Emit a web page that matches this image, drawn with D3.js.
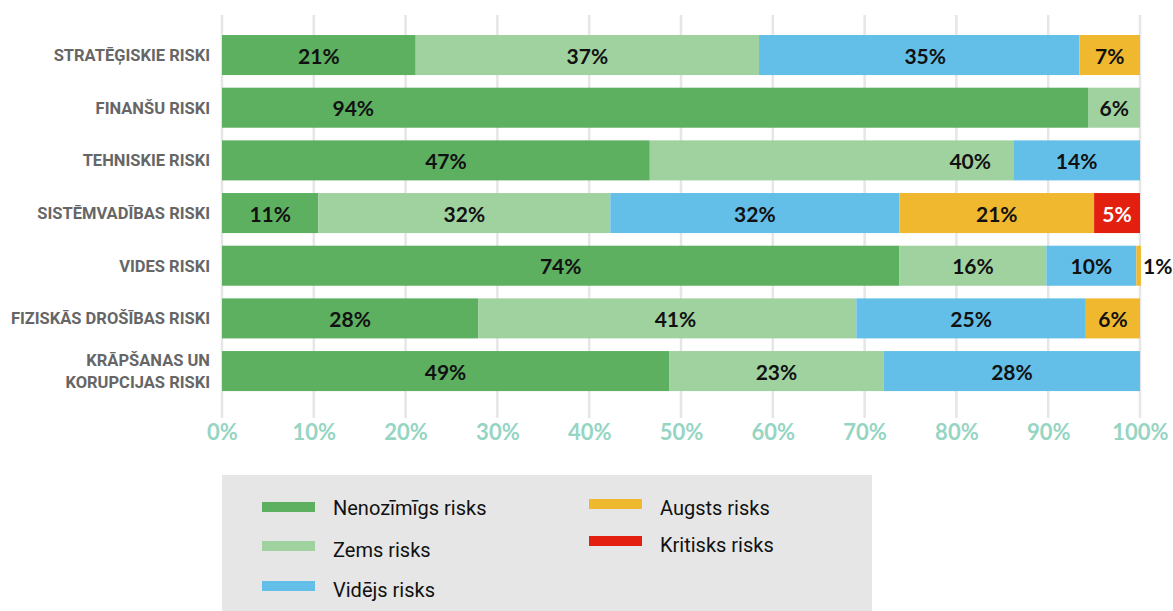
<!DOCTYPE html>
<html>
<head>
<meta charset="utf-8">
<script src="https://cdn.jsdelivr.net/npm/d3@7"></script>
<style>
  body { margin: 0; background: #fff; }
  svg { display: block; }
</style>
</head>
<body>
<svg width="1173" height="611"></svg>
<script>
// dati
var categories = ["STRATĒĢISKIE RISKI", "FINANŠU RISKI", "TEHNISKIE RISKI", "SISTĒMVADĪBAS RISKI",
                  "VIDES RISKI", "FIZISKĀS DROŠĪBAS RISKI", "KRĀPŠANAS UN\nKORUPCIJAS RISKI"];
var seriesNames = ["Nenozīmīgs risks", "Zems risks", "Vidējs risks", "Augsts risks", "Kritisks risks"];
var nenozimigs = [21.1, 94.4, 46.6, 10.5, 73.8, 27.9, 48.7];
var zems       = [37.4,  5.6, 39.6, 31.8, 16.0, 41.2, 23.4];
var videjs     = [34.9,  0,   13.8, 31.5,  9.8, 25.0, 27.9];
var augsts     = [ 6.6,  0,    0,   21.2,  0.5,  5.9,  0];
var kritisks   = [ 0,    0,    0,    5.0,  0,    0,    0];
var tickValues = [0, 10, 20, 30, 40, 50, 60, 70, 80, 90, 100];
// kur stāv etiķete (vērtības vienībās), ja ne segmenta vidū
var labelAt = { "0-2": 76.6, "1-0": 14.3, "2-0": 24.4, "2-1": 81.5, "5-1": 49.4 };

var colors = ["#5db060", "#a0d2a0", "#63bfe8", "#f0b82e", "#e3200f"];
var allSeries = [nenozimigs, zems, videjs, augsts, kritisks];

var rows = categories.map(function(c, i) {
    var r = { cat: c, idx: i };
    seriesNames.forEach(function(s, j) { r[s] = allSeries[j][i]; });
    return r;
});

var svg = d3.select("svg");

var x = d3.scaleLinear().domain([0, 100]).range([222, 1140]);
var y = d3.scaleBand().domain(categories).range([28.7, 397.4]).paddingInner(0.24).paddingOuter(0.12);
var color = d3.scaleOrdinal().domain(seriesNames).range(colors);

var stacked = d3.stack().keys(seriesNames)(rows);

// režģis
svg.append("g").selectAll("line")
    .data(tickValues)
    .enter().append("line")
    .attr("x1", function(d) { return x(d); })
    .attr("x2", function(d) { return x(d); })
    .attr("y1", 15)
    .attr("y2", 418)
    .attr("stroke", "#e6e6e6")
    .attr("stroke-width", 2.5);

// x ass
var xAxis = d3.axisBottom(x).tickValues(tickValues).tickSize(0).tickFormat(function(d) { return d + "%"; });
var ax = svg.append("g").attr("transform", "translate(0,421)").call(xAxis);
ax.select(".domain").remove();
ax.selectAll("text")
    .attr("dy", "0.71em")
    .attr("y", 3)
    .style("font-family", "Lato, sans-serif")
    .style("font-weight", 700)
    .style("font-size", "22px")
    .style("fill", "#96d5c3");

// stabiņi
var layer = svg.append("g").selectAll("g")
    .data(stacked)
    .enter().append("g")
    .attr("fill", function(d) { return color(d.key); });

layer.selectAll("rect")
    .data(function(d) { return d; })
    .enter().append("rect")
    .attr("x", function(d) { return x(d[0]); })
    .attr("y", function(d) { return y(d.data.cat); })
    .attr("width", function(d) { return x(d[1]) - x(d[0]); })
    .attr("height", y.bandwidth());

// etiķetes
var labels = [];
stacked.forEach(function(s, j) {
    s.forEach(function(d) {
        var v = allSeries[j][d.data.idx];
        if (v <= 0) return;
        var key = d.data.idx + "-" + j;
        var w = x(d[1]) - x(d[0]);
        var lab = { text: Math.round(v) + "%", cat: d.data.cat, j: j };
        if (w < 20) {
            lab.x = x(100) + 3; lab.anchor = "start";
        } else {
            lab.x = labelAt[key] !== undefined ? x(labelAt[key]) : (x(d[0]) + x(d[1])) / 2;
            lab.anchor = "middle";
        }
        labels.push(lab);
    });
});

svg.append("g").selectAll("text")
    .data(labels)
    .enter().append("text")
    .attr("x", function(d) { return d.x; })
    .attr("y", function(d) { return y(d.cat) + y.bandwidth() / 2 + 1; })
    .attr("dy", "0.36em")
    .attr("text-anchor", function(d) { return d.anchor; })
    .style("font-family", "Lato, sans-serif")
    .style("font-weight", 700)
    .style("font-size", "21px")
    .style("fill", function(d) { return d.j === 4 ? "#fff" : "#111"; })
    .text(function(d) { return d.text; });

// kategoriju nosaukumi
var catText = svg.append("g").selectAll("text")
    .data(categories)
    .enter().append("text")
    .attr("text-anchor", "end")
    .attr("x", 210)
    .style("font-family", "Roboto, sans-serif")
    .style("font-weight", 700)
    .style("font-size", "16.5px")
    .style("fill", "#666");

catText.each(function(d) {
    var parts = d.split("\n");
    var t = d3.select(this);
    var lh = 22;
    parts.forEach(function(p, i) {
        t.append("tspan")
            .attr("x", 210)
            .attr("y", y(d) + y.bandwidth() / 2 + (i - (parts.length - 1) / 2) * lh)
            .attr("dy", "0.36em")
            .text(p);
    });
});

// leģenda
var legend = svg.append("g");
legend.append("rect")
    .attr("x", 222).attr("y", 475)
    .attr("width", 650).attr("height", 140)
    .attr("fill", "#e6e6e6");

var legendPos = [
    { sx: 262, sy: 507, ty: 508 },
    { sx: 262, sy: 546, ty: 550 },
    { sx: 262, sy: 586, ty: 590 },
    { sx: 589, sy: 504, ty: 508 },
    { sx: 589, sy: 541, ty: 545 }
];

var li = legend.selectAll("g.item")
    .data(seriesNames)
    .enter().append("g")
    .attr("class", "item");

li.append("rect")
    .attr("x", function(d, i) { return legendPos[i].sx; })
    .attr("y", function(d, i) { return legendPos[i].sy - 5; })
    .attr("width", 53)
    .attr("height", 10)
    .attr("fill", function(d) { return color(d); });

li.append("text")
    .attr("x", function(d, i) { return legendPos[i].sx + 71; })
    .attr("y", function(d, i) { return legendPos[i].ty; })
    .attr("dy", "0.36em")
    .style("font-family", "Roboto, sans-serif")
    .style("font-size", "20px")
    .style("fill", "#111")
    .text(function(d) { return d; });
</script>
</body>
</html>
